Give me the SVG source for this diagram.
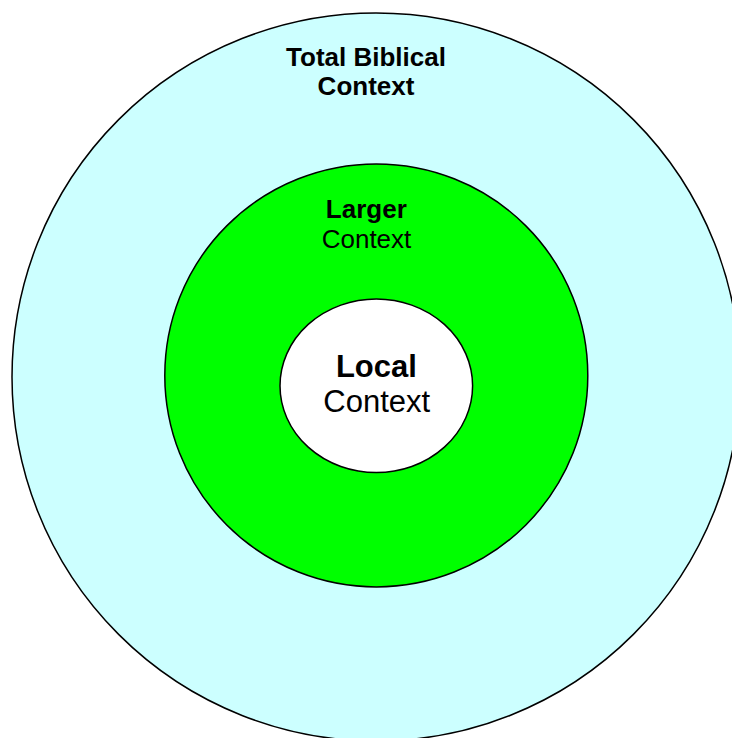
<svg xmlns="http://www.w3.org/2000/svg" width="732" height="738" viewBox="0 0 732 738">
<style>
.ring{stroke:#000;stroke-width:1.5}
text{font-family:"Liberation Sans",Arial,sans-serif;fill:#000;text-anchor:middle}
.b{font-weight:bold}
</style>
<rect width="732" height="738" fill="#fff"/>
<g id="total">
<circle class="ring" cx="376" cy="377" r="364" fill="#ccffff"/>
<text class="b" x="366" y="65.5" font-size="26">Total Biblical</text>
<text class="b" x="366" y="94.5" font-size="26">Context</text>
</g>
<g id="larger">
<circle class="ring" cx="376.3" cy="375.4" r="211.5" fill="#00ff00"/>
<text class="b" x="366.3" y="217.5" font-size="26">Larger</text>
<text x="366.5" y="248.3" font-size="26">Context</text>
</g>
<g id="local">
<ellipse class="ring" cx="376.3" cy="385.8" rx="96.3" ry="86.8" fill="#fff"/>
<text class="b" x="376.4" y="377.3" font-size="31">Local</text>
<text x="376.7" y="411.7" font-size="31">Context</text>
</g>
<g id="connectors"/>
</svg>
